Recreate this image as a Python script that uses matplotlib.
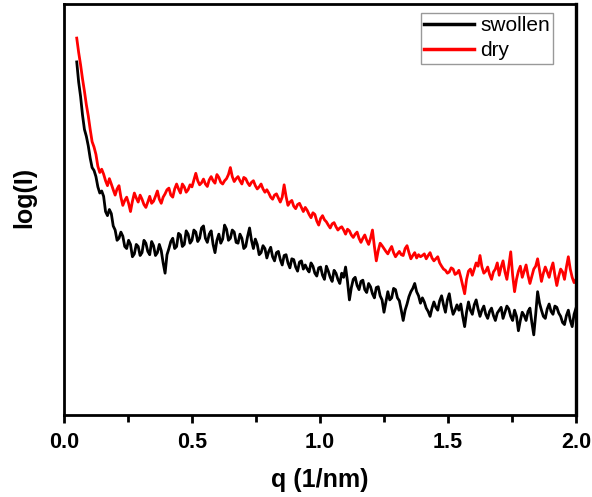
"""SAXS-style profile: swollen vs dry film, log(I) against q (arbitrary units)."""
import numpy as np
import matplotlib
matplotlib.use("Agg")
import matplotlib.pyplot as plt

# q grid of the scans (1/nm), 0.05 ... 2.0 in steps of 0.0075
q = np.round(0.05 + 0.0075 * np.arange(261), 4)

# log(I), arbitrary units
swollen = [
    8.59, 8.10, 7.75, 7.30, 6.95, 6.78, 6.55, 6.25, 6.02, 5.95, 5.80, 5.55, 5.40, 5.45, 5.32, 4.95, 4.85, 5.00, 4.90, 4.60,
    4.50, 4.25, 4.30, 4.45, 4.35, 4.10, 4.05, 4.25, 4.15, 3.85, 3.92, 4.15, 4.10, 3.88, 3.95, 4.25, 4.18, 3.98, 3.90, 4.22,
    4.12, 3.88, 3.95, 4.15, 4.00, 3.70, 3.45, 3.90, 4.05, 4.22, 4.30, 4.05, 4.10, 4.42, 4.38, 4.10, 4.15, 4.48, 4.40, 4.18,
    4.25, 4.50, 4.45, 4.22, 4.30, 4.55, 4.60, 4.30, 4.20, 4.40, 4.48, 4.15, 3.95, 4.25, 4.40, 4.18, 4.28, 4.62, 4.52, 4.25,
    4.30, 4.50, 4.45, 4.20, 4.18, 4.40, 4.30, 4.05, 4.10, 4.35, 4.55, 4.25, 4.05, 4.28, 4.15, 3.90, 3.95, 4.12, 4.05, 3.82,
    3.98, 4.08, 3.85, 3.75, 3.95, 3.98, 3.78, 3.65, 3.88, 3.90, 3.70, 3.58, 3.80, 3.78, 3.60, 3.50, 3.72, 3.75, 3.55, 3.65,
    3.55, 3.48, 3.70, 3.62, 3.45, 3.38, 3.58, 3.60, 3.40, 3.30, 3.62, 3.50, 3.35, 3.25, 3.52, 3.45, 3.30, 3.20, 3.45, 3.35,
    3.60, 3.25, 2.80, 3.10, 3.30, 3.35, 3.15, 3.05, 3.25, 3.28, 3.05, 2.98, 3.20, 3.12, 2.95, 2.85, 3.10, 3.12, 2.90, 2.80,
    2.50, 2.75, 3.00, 2.80, 2.85, 3.08, 3.05, 2.85, 2.78, 2.55, 2.30, 2.55, 2.70, 2.88, 3.00, 3.08, 3.20, 3.00, 2.90, 2.72,
    2.85, 2.75, 2.60, 2.52, 2.40, 2.60, 2.75, 2.62, 2.55, 2.78, 2.90, 2.68, 2.50, 2.80, 2.95, 2.65, 2.45, 2.55, 2.68, 2.55,
    2.70, 2.40, 2.15, 2.50, 2.75, 2.55, 2.45, 2.68, 2.80, 2.58, 2.40, 2.55, 2.65, 2.45, 2.35, 2.52, 2.60, 2.42, 2.30, 2.48,
    2.55, 2.62, 2.35, 2.50, 2.65, 2.58, 2.40, 2.30, 2.55, 2.40, 2.05, 2.30, 2.50, 2.42, 2.30, 2.52, 2.60, 2.25, 1.95, 2.45,
    3.00, 2.72, 2.55, 2.40, 2.35, 2.58, 2.70, 2.52, 2.45, 2.65, 2.62, 2.48, 2.40, 2.25, 2.20, 2.42, 2.55, 2.30, 2.15, 2.45,
    2.60,
]
dry = [
    9.17, 8.82, 8.52, 8.18, 7.88, 7.55, 7.28, 6.95, 6.65, 6.52, 6.34, 6.05, 5.90, 5.98, 5.86, 5.70, 5.58, 5.75, 5.62, 5.48,
    5.35, 5.50, 5.58, 5.30, 5.10, 5.22, 5.30, 5.15, 4.95, 5.20, 5.40, 5.28, 5.18, 5.35, 5.25, 5.12, 5.05, 5.18, 5.32, 5.15,
    5.20, 5.32, 5.45, 5.25, 5.15, 5.30, 5.38, 5.48, 5.52, 5.35, 5.30, 5.50, 5.62, 5.50, 5.40, 5.62, 5.55, 5.42, 5.48, 5.60,
    5.55, 5.72, 5.88, 5.70, 5.60, 5.65, 5.74, 5.62, 5.56, 5.72, 5.80, 5.70, 5.64, 5.85, 5.78, 5.66, 5.62, 5.70, 5.75, 5.85,
    6.02, 5.80, 5.68, 5.75, 5.80, 5.70, 5.62, 5.78, 5.75, 5.65, 5.58, 5.66, 5.70, 5.58, 5.50, 5.55, 5.62, 5.50, 5.42, 5.48,
    5.40, 5.30, 5.25, 5.35, 5.38, 5.28, 5.18, 5.30, 5.60, 5.32, 5.10, 5.18, 5.22, 5.08, 5.02, 5.12, 5.15, 5.05, 4.95, 5.05,
    4.98, 4.88, 4.80, 4.92, 4.88, 4.72, 4.62, 4.78, 4.85, 4.75, 4.70, 4.62, 4.55, 4.65, 4.68, 4.58, 4.50, 4.55, 4.58, 4.50,
    4.40, 4.52, 4.48, 4.38, 4.32, 4.40, 4.45, 4.30, 4.20, 4.30, 4.38, 4.25, 4.15, 4.30, 4.50, 4.10, 3.75, 4.00, 4.18, 4.12,
    4.05, 3.98, 3.92, 4.02, 4.10, 3.95, 3.85, 3.92, 3.98, 3.90, 3.88, 4.05, 4.12, 3.95, 3.80, 3.88, 3.95, 3.82, 3.90, 3.85,
    3.88, 3.92, 3.80, 3.88, 3.95, 3.82, 3.75, 3.80, 3.85, 3.70, 3.62, 3.55, 3.52, 3.45, 3.48, 3.58, 3.55, 3.42, 3.45, 3.52,
    3.35, 3.15, 2.95, 3.30, 3.50, 3.55, 3.40, 3.55, 3.70, 3.62, 3.88, 3.60, 3.45, 3.50, 3.60, 3.42, 3.30, 3.48, 3.55, 3.70,
    3.40, 3.60, 3.75, 3.48, 3.30, 3.62, 3.97, 3.40, 3.00, 3.30, 3.50, 3.62, 3.35, 3.50, 3.65, 3.40, 3.20, 3.38, 3.55, 3.62,
    3.80, 3.52, 3.25, 3.45, 3.60, 3.48, 3.35, 3.55, 3.70, 3.40, 3.15, 3.38, 3.55, 3.48, 3.30, 3.60, 3.85, 3.55, 3.35, 3.22,
    3.30,
]
xticks = [0.0, 0.5, 1.0, 1.5, 2.0]

plt.rcParams["font.family"] = ["Liberation Sans", "DejaVu Sans"]

fig = plt.figure(figsize=(5.92, 4.97), dpi=100)
ax = fig.add_axes([0.108, 0.165, 0.865, 0.827])
ax.plot(q, swollen, color="black", lw=2.0, label="swollen")
ax.plot(q, dry, color="red", lw=2.0, label="dry")

ax.set_xlim(0, 2.0)
ax.set_ylim(0, 10)
ax.set_xticks(xticks)
ax.set_xticklabels([f"{t:.1f}" for t in xticks], fontsize=15.5, fontweight="bold")
ax.xaxis.set_minor_locator(matplotlib.ticker.MultipleLocator(0.25))
ax.tick_params(axis="x", which="both", direction="out", width=2, pad=6)
ax.tick_params(axis="x", which="major", length=6)
ax.tick_params(axis="x", which="minor", length=5)
ax.set_yticks([])
for s in ax.spines.values():
    s.set_linewidth(2)
ax.spines["right"].set_linewidth(2.4)

ax.set_xlabel("q (1/nm)", fontsize=18, fontweight="bold", labelpad=11)
ax.set_ylabel("log(I)", fontsize=18, fontweight="bold", labelpad=18)
ax.yaxis.set_label_coords(-0.055, 0.53)

leg = ax.legend(loc="upper right", bbox_to_anchor=(0.955, 0.978), fontsize=15,
                frameon=True, fancybox=False, handlelength=2.4, handletextpad=0.3,
                borderpad=0.15, labelspacing=0.3, borderaxespad=0.0)
leg.get_frame().set_edgecolor("#808080")
leg.get_frame().set_linewidth(1.0)
for h in leg.get_lines():
    h.set_linewidth(2.5)

fig.savefig("out.png", dpi=100)
